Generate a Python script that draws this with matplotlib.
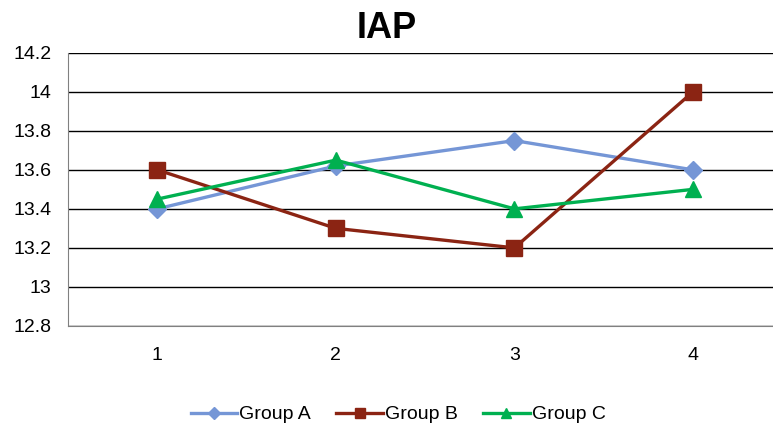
import matplotlib.pyplot as plt

categories = ['1', '2', '3', '4']
group_a = [13.4, 13.62, 13.75, 13.6]
group_b = [13.6, 13.3, 13.2, 14.0]
group_c = [13.45, 13.65, 13.4, 13.5]

plt.rcParams['font.family'] = ['Liberation Sans', 'DejaVu Sans']

fig = plt.figure(figsize=(7.73, 4.26), dpi=100)
# plot area runs a little past the right edge of the picture
ax = fig.add_axes([0.088, 0.235, 0.924, 0.641])

x = list(range(1, len(categories) + 1))
ax.plot(x, group_a, '-D', color='#7596D6', lw=2.4, ms=9, label='Group A')
ax.plot(x, group_b, '-s', color='#8B2413', lw=2.4, ms=12, label='Group B')
ax.plot(x, group_c, '-^', color='#00B050', lw=2.4, ms=12, label='Group C')

ax.set_xlim(0.5, 4.5)
ax.set_ylim(12.8, 14.2)
ax.set_xticks(x)
ax.set_xticklabels(categories)
yt = [12.8, 13.0, 13.2, 13.4, 13.6, 13.8, 14.0, 14.2]
ax.set_yticks(yt)
ax.set_yticklabels(['12.8', '13', '13.2', '13.4', '13.6', '13.8', '14', '14.2'])
ax.grid(axis='y', color='black', lw=1)
ax.set_axisbelow(True)
for s in ['top', 'right']:
    ax.spines[s].set_visible(False)
for s in ['left', 'bottom']:
    ax.spines[s].set_color('#808080')
ax.tick_params(length=0, labelsize=14, pad=12)
ax.tick_params(axis='x', pad=15)

fig.suptitle('IAP', fontsize=26, fontweight='bold', y=0.975)
fig.legend(loc='lower center', ncol=3, frameon=False, fontsize=14,
           bbox_to_anchor=(0.515, -0.035), handlelength=2.4, columnspacing=1.3,
           handletextpad=0.1, markerscale=0.65)

fig.savefig('out.png', dpi=100)
